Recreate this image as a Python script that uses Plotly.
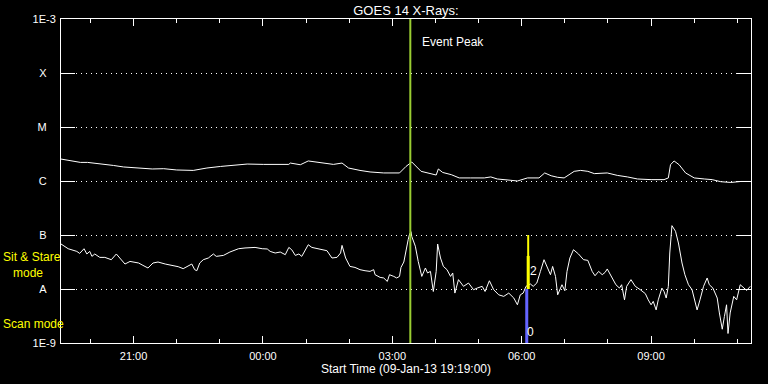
import pandas as pd
import plotly.graph_objects as go

START = pd.Timestamp("2013-01-09 19:19:00")
END = pd.Timestamp("2013-01-10 11:19:00")

# GOES 14 long channel (1-8 A), minutes after start, flux W/m^2
long_min = [0, 13, 27, 37, 55, 73, 87, 106, 127, 143, 161, 184, 203, 222, 240, 259, 282, 300,
            317, 319, 333, 344, 361, 379, 391, 400, 416, 430, 449, 471, 480, 488, 501, 510, 522,
            525, 531, 543, 554, 570, 589, 598, 607, 626, 635, 649, 665, 673, 682, 691, 700, 714,
            723, 733, 742, 760, 774, 788, 802, 821, 839, 845, 848, 853, 860, 869, 881, 895, 906,
            918, 932, 946, 958]
long_flux = [2.55e-6, 2.41e-6, 2.21e-6, 2.21e-6, 2.09e-6, 1.94e-6, 1.82e-6, 1.74e-6, 1.67e-6,
             1.69e-6, 1.60e-6, 1.57e-6, 1.74e-6, 1.86e-6, 1.98e-6, 2.06e-6, 2.03e-6, 2.00e-6,
             2.03e-6, 2.15e-6, 2.00e-6, 2.35e-6, 2.21e-6, 2.03e-6, 2.15e-6, 1.74e-6, 1.57e-6,
             1.47e-6, 1.41e-6, 1.41e-6, 1.86e-6, 2.25e-6, 1.51e-6, 1.41e-6, 1.29e-6, 1.67e-6,
             1.44e-6, 1.31e-6, 1.14e-6, 1.14e-6, 1.14e-6, 1.19e-6, 1.09e-6, 1.03e-6, 1.00e-6,
             1.14e-6, 1.14e-6, 1.41e-6, 1.25e-6, 1.17e-6, 1.14e-6, 1.51e-6, 1.57e-6, 1.51e-6,
             1.37e-6, 1.41e-6, 1.27e-6, 1.19e-6, 1.09e-6, 1.06e-6, 1.06e-6, 1.14e-6, 2.00e-6,
             2.35e-6, 2.00e-6, 1.41e-6, 1.14e-6, 1.09e-6, 1.06e-6, 0.97e-6, 0.94e-6, 0.98e-6,
             0.98e-6]

# GOES 14 short channel (0.5-4 A), minutes after start, flux in units of 1e-8 W/m^2
short_min = [0, 10, 22, 26, 32, 36, 40, 43, 47, 54, 61, 70, 77, 82, 89, 96, 108, 114, 121, 128,
             135, 145, 154, 163, 170, 177, 182, 186, 189, 193, 198, 205, 212, 216, 226, 235, 247,
             256, 270, 280, 287, 291, 298, 305, 312, 317, 321, 326, 331, 335, 340, 344, 349, 356,
             363, 370, 377, 384, 389, 391, 396, 402, 409, 416, 423, 430, 435, 437, 444, 449, 454,
             457, 463, 467, 471, 473, 477, 480, 483, 485, 487, 488, 493, 497, 502, 507, 510, 514,
             518, 522, 524, 528, 532, 537, 542, 545, 548, 553, 560, 567, 574, 579, 586, 590, 596,
             602, 609, 616, 623, 630, 635, 639, 643, 647, 653, 657, 662, 667, 672, 677, 681, 684,
             688, 691, 697, 701, 704, 708, 713, 720, 727, 733, 739, 743, 748, 753, 757, 760, 767,
             772, 777, 780, 784, 787, 793, 799, 806, 813, 817, 821, 824, 828, 831, 836, 839, 842,
             845, 847, 850, 855, 859, 864, 868, 873, 878, 881, 885, 889, 894, 899, 902, 907, 913,
             916, 920, 923, 926, 928, 931, 936, 940, 945, 950, 954, 959]
short_flux_e8 = [6.81, 5.57, 4.97, 4.56, 5.57, 4.45, 4.97, 4.02, 4.45, 3.85, 3.85, 3.49, 4.45,
                 3.75, 2.90, 3.24, 3.03, 2.74, 2.45, 3.03, 3.16, 2.90, 2.74, 2.59, 2.38, 2.62,
                 2.90, 2.28, 2.18, 3.03, 3.49, 3.75, 4.45, 4.02, 4.19, 4.84, 5.57, 5.75, 5.89,
                 5.57, 5.51, 4.97, 4.64, 4.84, 4.32, 5.89, 5.34, 4.19, 4.45, 4.02, 5.34, 6.61,
                 5.89, 5.57, 5.28, 5.12, 3.75, 3.85, 4.64, 6.42, 3.75, 2.62, 2.51, 2.28, 2.18,
                 2.12, 2.28, 1.84, 1.64, 1.60, 1.38, 1.84, 1.71, 1.60, 1.71, 2.51, 3.16, 5.34,
                 8.18, 10.4, 11.5, 9.42, 6.20, 3.24, 1.71, 2.45, 1.98, 2.12, 0.90, 2.12, 6.81,
                 3.75, 2.62, 2.28, 1.71, 1.98, 0.84, 1.49, 1.12, 1.29, 0.97, 1.04, 1.12, 0.90,
                 1.42, 0.97, 0.78, 0.73, 0.84, 0.68, 0.51, 0.78, 0.84, 1.12, 1.24, 1.12, 1.29,
                 2.12, 3.49, 2.45, 1.84, 2.62, 1.71, 0.78, 1.20, 0.93, 2.12, 3.75, 5.34, 4.45,
                 3.49, 3.39, 2.12, 1.76, 2.12, 1.84, 2.03, 2.35, 1.60, 1.20, 1.04, 1.20, 0.63,
                 1.12, 1.49, 1.12, 0.97, 0.82, 0.63, 0.51, 0.59, 0.41, 0.63, 1.04, 0.90, 0.68,
                 1.12, 4.64, 14.9, 11.7, 7.11, 3.03, 1.84, 1.20, 0.97, 0.63, 0.41, 0.63, 1.12,
                 1.60, 1.20, 1.04, 0.68, 0.36, 0.18, 0.31, 0.51, 0.15, 0.36, 0.73, 0.63, 1.20,
                 1.04, 0.94, 1.12]
short_flux = [v * 1e-8 for v in short_flux_e8]

# GOES class levels and labels
class_vals = [1e-9, 1e-8, 1e-7, 1e-6, 1e-5, 1e-4, 1e-3]
class_text = ["1E-9", "A", "B", "C", "M", "X", "1E-3"]
NB = "\u00a0"
class_text_padded = [t if t.startswith("1E") else t + NB * 3 for t in class_text]

# time ticks
major_ticks = ["2013-01-09 21:00", "2013-01-10 00:00", "2013-01-10 03:00",
               "2013-01-10 06:00", "2013-01-10 09:00"]
major_text = ["21:00", "00:00", "03:00", "06:00", "09:00"]

# event markers
event_peak = "2013-01-10 03:25"
scan_time = "2013-01-10 06:07"
stare_time = "2013-01-10 06:09"
stare_top, stare_mid, stare_bottom = 1e-7, 4.1e-8, 1e-8
scan_top, scan_bottom = 1e-8, 1e-9

t_long = [START + pd.Timedelta(minutes=m) for m in long_min]
t_short = [START + pd.Timedelta(minutes=m) for m in short_min]

fig = go.Figure()
fig.add_trace(go.Scatter(x=t_long, y=long_flux, mode="lines",
                         line=dict(color="white", width=1), hoverinfo="skip"))
fig.add_trace(go.Scatter(x=t_short, y=short_flux, mode="lines",
                         line=dict(color="white", width=1), hoverinfo="skip"))
# event peak line
fig.add_trace(go.Scatter(x=[event_peak, event_peak], y=[class_vals[0], class_vals[-1]],
                         mode="lines", line=dict(color="#9acd32", width=2), hoverinfo="skip"))
# scan mode (blue) and sit & stare (yellow)
fig.add_trace(go.Scatter(x=[scan_time, scan_time], y=[scan_top, scan_bottom],
                         mode="lines", line=dict(color="#6464ff", width=3), hoverinfo="skip"))
fig.add_trace(go.Scatter(x=[stare_time, stare_time], y=[stare_top, stare_bottom],
                         mode="lines", line=dict(color="#ffff00", width=2), hoverinfo="skip"))
fig.add_trace(go.Scatter(x=[stare_time, stare_time], y=[stare_mid, stare_bottom],
                         mode="lines", line=dict(color="#ffff00", width=3), hoverinfo="skip"))

FONT = "Liberation Sans"
PL, PR, PT, PB = 61, 751, 19, 343
PW, PH = PR - PL, PB - PT


def px_x(x):
    return (x - PL) / PW


def px_y(y):
    return (PB - y) / PH


fig.update_layout(
    width=768, height=384,
    paper_bgcolor="black", plot_bgcolor="black",
    showlegend=False,
    hovermode=False,
    margin=dict(l=PL, r=768 - PR, t=PT, b=384 - PB, autoexpand=False),
    font=dict(family=FONT, color="white", size=11),
    title=dict(text="GOES 14 X-Rays:", x=(PL + PR) / 2 / 768, xanchor="center",
               y=1 - 10 / 384, yanchor="middle", font=dict(size=13, color="white")),
    xaxis=dict(
        type="date", range=[START, END], automargin=False,
        tickvals=major_ticks, ticktext=major_text,
        ticks="inside", ticklen=7, tickcolor="white", tickwidth=1,
        showline=True, linecolor="white", linewidth=1, mirror="ticks",
        showgrid=False, zeroline=False,
        tickfont=dict(size=11, color="white"),
        ticklabelstandoff=3,
        minor=dict(ticks="inside", ticklen=4, tickcolor="white",
                   dtick=3600000, tick0="2013-01-09 20:00", showgrid=False),
        title=dict(text="Start Time (09-Jan-13 19:19:00)", standoff=2,
                   font=dict(size=12, color="white")),
    ),
    yaxis=dict(
        type="log", range=[-9, -3], automargin=False,
        tickvals=class_vals, ticktext=class_text_padded,
        ticks="inside", ticklen=14, tickcolor="white", tickwidth=1,
        showline=True, linecolor="white", linewidth=1, mirror="ticks",
        showgrid=True, gridcolor="white", gridwidth=1, griddash="1px,4px",
        zeroline=False,
        tickfont=dict(size=11, color="white"),
        ticklabelstandoff=2,
    ),
    annotations=[
        dict(text="Event Peak", x=pd.Timestamp("2013-01-10 03:39"), xref="x", xanchor="left",
             y=px_y(42), yref="paper", yanchor="middle", showarrow=False,
             font=dict(size=12, color="white")),
        dict(text="2", x=pd.Timestamp("2013-01-10 06:16"), xref="x", xanchor="center",
             y=-7.66, yref="y", yanchor="middle", showarrow=False,
             font=dict(size=12, color="white")),
        dict(text="0", x=pd.Timestamp("2013-01-10 06:12"), xref="x", xanchor="center",
             y=-8.8, yref="y", yanchor="middle", showarrow=False,
             font=dict(size=12, color="white")),
        dict(text="Sit & Stare<br>" + NB * 3 + "mode", x=px_x(1), xref="paper",
             xanchor="left", align="left",
             y=px_y(265), yref="paper", yanchor="middle", showarrow=False,
             font=dict(size=12, color="#ffff00")),
        dict(text="Scan mode", x=px_x(1), xref="paper", xanchor="left",
             y=px_y(324), yref="paper", yanchor="middle", showarrow=False,
             font=dict(size=12, color="#ffff00")),
    ],
)

fig.write_html("out.html", config={"displayModeBar": False, "staticPlot": True},
               post_script="document.body.style.margin='0';document.body.style.overflow='hidden';")
